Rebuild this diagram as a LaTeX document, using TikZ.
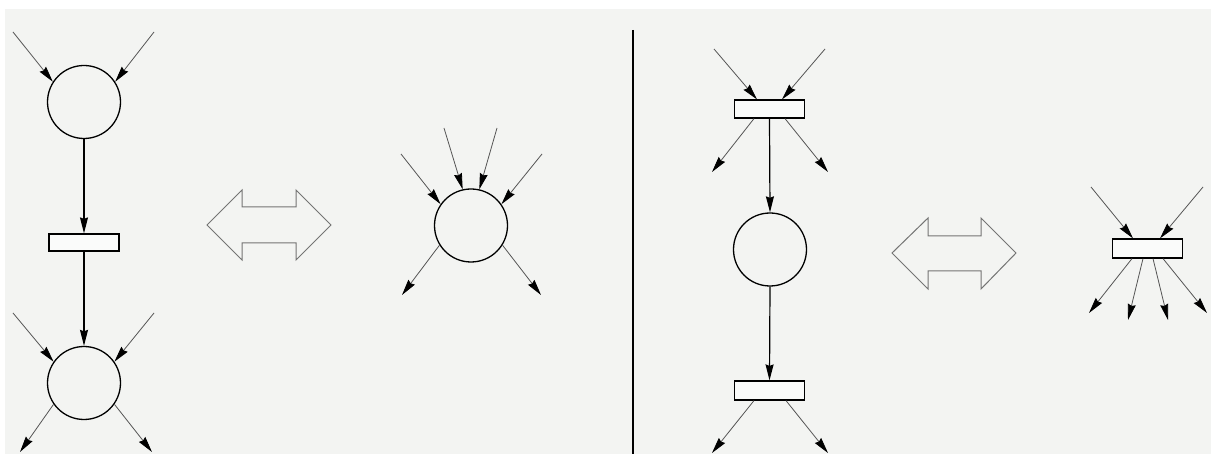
\documentclass[tikz,border=0pt]{standalone}
\usetikzlibrary{arrows.meta}
\definecolor{bg}{HTML}{F3F4F2}
\definecolor{arcgray}{HTML}{555555}
\definecolor{shapegray}{HTML}{747474}
\begin{document}
\begin{tikzpicture}[x=1pt,y=-1pt,
  place/.style={circle,draw=black,line width=1.3pt,minimum size=73pt,inner sep=0pt},
  trans/.style={rectangle,draw=black,line width=1.2pt,minimum width=70pt,minimum height=18pt,inner sep=0pt,fill=white!60!bg},
  tip/.style={-{Stealth[length=16pt,width=8pt,inset=1.5pt,black]}},
  arc/.style={draw=arcgray,line width=0.8pt,tip},
  mainarc/.style={draw=black,line width=1.2pt,tip},
  dblarrow/.style={draw=shapegray,line width=1pt,fill=bg}
]
\useasboundingbox (0,0) rectangle (1211,454);
\fill[white] (0,0) rectangle (1211,454);
\fill[bg] (5,9) rectangle (1211,454);

% divider
\draw[line width=1.4pt] (633,30) -- (633,454);

% ---------- left panel, chain ----------
\node[place] (p1) at (84,102) {};
\node[trans,minimum height=17pt] (t1) at (84,242.5) {};
\node[place] (p2) at (84,383) {};

\coordinate (a1) at (13,32);
\coordinate (a2) at (154,32);
\draw[arc] (a1) -- (p1.147);
\draw[arc] (a2) -- (p1.33);
\draw[mainarc] (p1.south) -- (t1.north);
\draw[mainarc] (t1.south) -- (p2.north);

\coordinate (b1) at (13,313);
\coordinate (b2) at (154,313);
\coordinate (b3) at (20,452);
\coordinate (b4) at (152,452);
\draw[arc] (b1) -- (p2.145);
\draw[arc] (b2) -- (p2.35);
\draw[arc] (p2.215) -- (b3);
\draw[arc] (p2.325) -- (b4);

% double arrow 1
\draw[dblarrow] (207,225) -- (242,190) -- (242,207) -- (296,207) -- (296,190)
  -- (331,225) -- (296,260) -- (296,243) -- (242,243) -- (242,260) -- cycle;

% merged place
\node[place] (p3) at (471,225.5) {};
\coordinate (c1) at (401,154);
\coordinate (c2) at (444,128);
\coordinate (c3) at (497,128);
\coordinate (c4) at (542,154);
\coordinate (c5) at (402,295);
\coordinate (c6) at (541,295);
\draw[arc] (c1) -- (p3.145);
\draw[arc] (c2) -- (p3.103);
\draw[arc] (c3) -- (p3.77);
\draw[arc] (c4) -- (p3.35);
\draw[arc] (p3.212) -- (c5);
\draw[arc] (p3.328) -- (c6);

% ---------- right panel, chain ----------
\node[trans] (t2) at (769.5,109) {};
\node[place] (p4) at (770,249.5) {};
\node[trans,minimum height=19pt] (t3) at (769.5,390.5) {};

\coordinate (d1) at (714,49);
\coordinate (d2) at (825,49);
\coordinate (d3) at (712,172);
\coordinate (d4) at (828,172);
\draw[arc] (d1) -- ([xshift=-12.5pt]t2.north);
\draw[arc] (d2) -- ([xshift=12.5pt]t2.north);
\draw[arc] ([xshift=-15.5pt]t2.south) -- (d3);
\draw[arc] ([xshift=15.5pt]t2.south) -- (d4);
\draw[mainarc] (t2.south) -- (p4.north);
\draw[mainarc] (p4.south) -- (t3.north);

\coordinate (e1) at (712,453);
\coordinate (e2) at (828,453);
\draw[arc] ([xshift=-15.5pt]t3.south) -- (e1);
\draw[arc] ([xshift=16.5pt]t3.south) -- (e2);

% double arrow 2
\draw[dblarrow] (892,253) -- (928,218) -- (928,236) -- (981,236) -- (981,218)
  -- (1016,253) -- (981,289) -- (981,271) -- (928,271) -- (928,289) -- cycle;

% merged transition
\node[trans,minimum height=19pt] (t4) at (1147.5,248.5) {};
\coordinate (f1) at (1091,187);
\coordinate (f2) at (1203,187);
\coordinate (f3) at (1089,313);
\coordinate (f4) at (1128,320);
\coordinate (f5) at (1168,320);
\coordinate (f6) at (1207,313);
\draw[arc] (f1) -- ([xshift=-14.5pt]t4.north);
\draw[arc] (f2) -- ([xshift=12.5pt]t4.north);
\draw[arc] ([xshift=-15.5pt]t4.south) -- (f3);
\draw[arc] ([xshift=-4.5pt]t4.south) -- (f4);
\draw[arc] ([xshift=5.5pt]t4.south) -- (f5);
\draw[arc] ([xshift=15.5pt]t4.south) -- (f6);
\end{tikzpicture}
\end{document}
